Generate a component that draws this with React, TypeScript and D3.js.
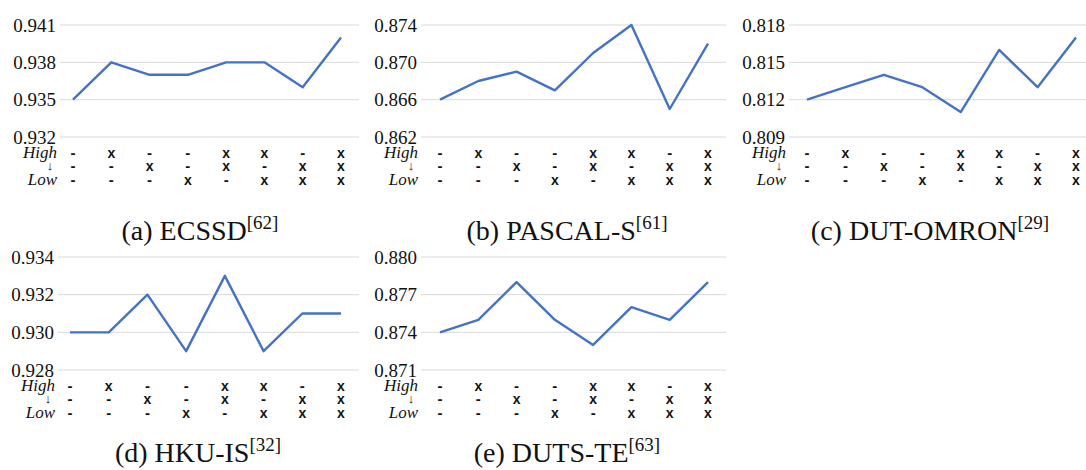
import React from "react";
import * as d3 from "d3";

// settings, same for every dataset
const settingsCount = 8;
const highRow = [0, 1, 0, 0, 1, 1, 0, 1];
const midRow = [0, 0, 1, 0, 1, 0, 1, 1];
const lowRow = [0, 0, 0, 1, 0, 1, 1, 1];
const rowLabels = ["High", "↓", "Low"];

// scores per dataset
const ecssd = [0.935, 0.938, 0.937, 0.937, 0.938, 0.938, 0.936, 0.94];
const pascalS = [0.866, 0.868, 0.869, 0.867, 0.871, 0.874, 0.865, 0.872];
const dutOmron = [0.812, 0.813, 0.814, 0.813, 0.811, 0.816, 0.813, 0.817];
const hkuIs = [0.93, 0.93, 0.932, 0.929, 0.933, 0.929, 0.931, 0.931];
const dutsTe = [0.874, 0.875, 0.878, 0.875, 0.873, 0.876, 0.875, 0.878];

// y ticks per dataset
const ecssdTicks = [0.932, 0.935, 0.938, 0.941];
const pascalTicks = [0.862, 0.866, 0.87, 0.874];
const omronTicks = [0.809, 0.812, 0.815, 0.818];
const hkuTicks = [0.928, 0.93, 0.932, 0.934];
const dutsTicks = [0.871, 0.874, 0.877, 0.88];

const panels = [
	{ values: ecssd, ticks: ecssdTicks, label: "(a) ECSSD", cite: "[62]", gx: [60, 359], px: [73, 341], top: 25, bottom: 137, titleX: 200, titleY: 240 },
	{ values: pascalS, ticks: pascalTicks, label: "(b) PASCAL-S", cite: "[61]", gx: [421, 726], px: [440, 708], top: 25, bottom: 137, titleX: 567, titleY: 240 },
	{ values: dutOmron, ticks: omronTicks, label: "(c) DUT-OMRON", cite: "[29]", gx: [789, 1095], px: [807, 1076], top: 25, bottom: 137, titleX: 930, titleY: 240 },
	{ values: hkuIs, ticks: hkuTicks, label: "(d) HKU-IS", cite: "[32]", gx: [58, 359], px: [70, 341], top: 257, bottom: 370, titleX: 198, titleY: 462 },
	{ values: dutsTe, ticks: dutsTicks, label: "(e) DUTS-TE", cite: "[63]", gx: [421, 726], px: [440, 708], top: 257, bottom: 370, titleX: 567, titleY: 462 },
];

const serif = "Liberation Serif";
const sans = "Liberation Sans";

const Panel = ({ p }) => {
	const idx = d3.range(settingsCount);
	const x = d3.scalePoint().domain(idx).range(p.px);
	const y = d3
		.scaleLinear()
		.domain([p.ticks[0], p.ticks[p.ticks.length - 1]])
		.range([p.bottom, p.top]);
	const line = d3
		.line()
		.x((d, i) => x(i))
		.y((d) => y(d));

	const rows = [highRow, midRow, lowRow];
	const rowY = [p.bottom + 16, p.bottom + 29, p.bottom + 43];

	return (
		<g>
			{p.ticks.map((t) => (
				<g key={t}>
					<line x1={p.gx[0]} x2={p.gx[1]} y1={y(t)} y2={y(t)} stroke="#d9d9d9" strokeWidth={1} />
					<text x={p.gx[0] - 4} y={y(t)} dy="0.35em" textAnchor="end" fontFamily={serif} fontSize={19} fill="#111">
						{d3.format(".3f")(t)}
					</text>
				</g>
			))}
			<path d={line(p.values)} fill="none" stroke="#4472c4" strokeWidth={2.4} strokeLinejoin="round" />
			{rows.map((row, r) => (
				<g key={r}>
					<text
						x={r === 1 ? p.gx[0] - 10 : p.gx[0] - 3}
						y={rowY[r]}
						dy={r === 1 ? "0.3em" : "0.32em"}
						textAnchor={r === 1 ? "middle" : "end"}
						fontFamily={serif}
						fontStyle={r === 1 ? "normal" : "italic"}
						fontSize={r === 1 ? 13 : 17}
						fill="#111"
					>
						{rowLabels[r]}
					</text>
					{row.map((v, i) => (
						<text
							key={i}
							x={x(i)}
							y={rowY[r]}
							dy={v ? "0.38em" : "0.32em"}
							textAnchor="middle"
							fontFamily={sans}
							fontWeight="bold"
							fontSize={v ? 14 : 15}
							fill="#111"
						>
							{v ? "x" : "-"}
						</text>
					))}
				</g>
			))}
			<text x={p.titleX} y={p.titleY} textAnchor="middle" fontFamily={serif} fontSize={28} fill="#111">
				<tspan>{p.label}</tspan>
				<tspan dy={-11} fontSize={19}>{p.cite}</tspan>
			</text>
		</g>
	);
};

const App = () => {
	return (
		<svg width={1086} height={470} style={{ display: "block", position: "absolute", left: 0, top: 0, background: "#fff" }}>
			<rect width={1086} height={470} fill="#fff" />
			{panels.map((p, i) => (
				<Panel key={i} p={p} />
			))}
		</svg>
	);
};

export default App;
